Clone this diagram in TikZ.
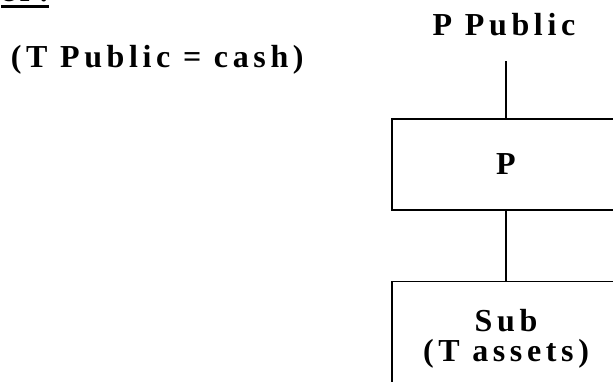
\documentclass[tikz,border=0pt]{standalone}
\usepackage{fontspec}
\setmainfont{Liberation Serif}[LetterSpace=14.5]
\usetikzlibrary{positioning}
\newcommand\hdrul[1]{\setbox0\hbox{#1}\rlap{\vrule width\wd0 height -4.4pt depth 6.8pt}\box0}

\begin{document}
\begin{tikzpicture}[x=1pt,y=-1pt,line width=1.6pt,
  txt/.style={font=\fontsize{32}{30}\bfseries\selectfont},
  entity/.style={draw,rectangle,minimum width=228pt,align=center,txt}]
  \clip (0,0) rectangle (613,381);
  % heading, cut off at the top
  \node[txt,anchor=base east,inner sep=0pt] (hdr) at (50,1) {\hdrul{er:}};
  \node[txt,anchor=base west,inner sep=0pt] (note) at (10,67) {(T Public = cash)};
  % parent and sub
  \node[txt,anchor=base,inner sep=0pt] (ppub) at (504,35) {P Public};
  \node[entity,minimum height=91pt] (pbox) at (506,164.5) {P};
  \node[entity,minimum height=114pt,below=70pt of pbox] (sub) {Sub\\(T assets)};
  \draw[shorten <=25pt] (ppub.south -| pbox.north) -- (pbox.north);
  \draw (pbox) -- (sub);
\end{tikzpicture}
\end{document}
